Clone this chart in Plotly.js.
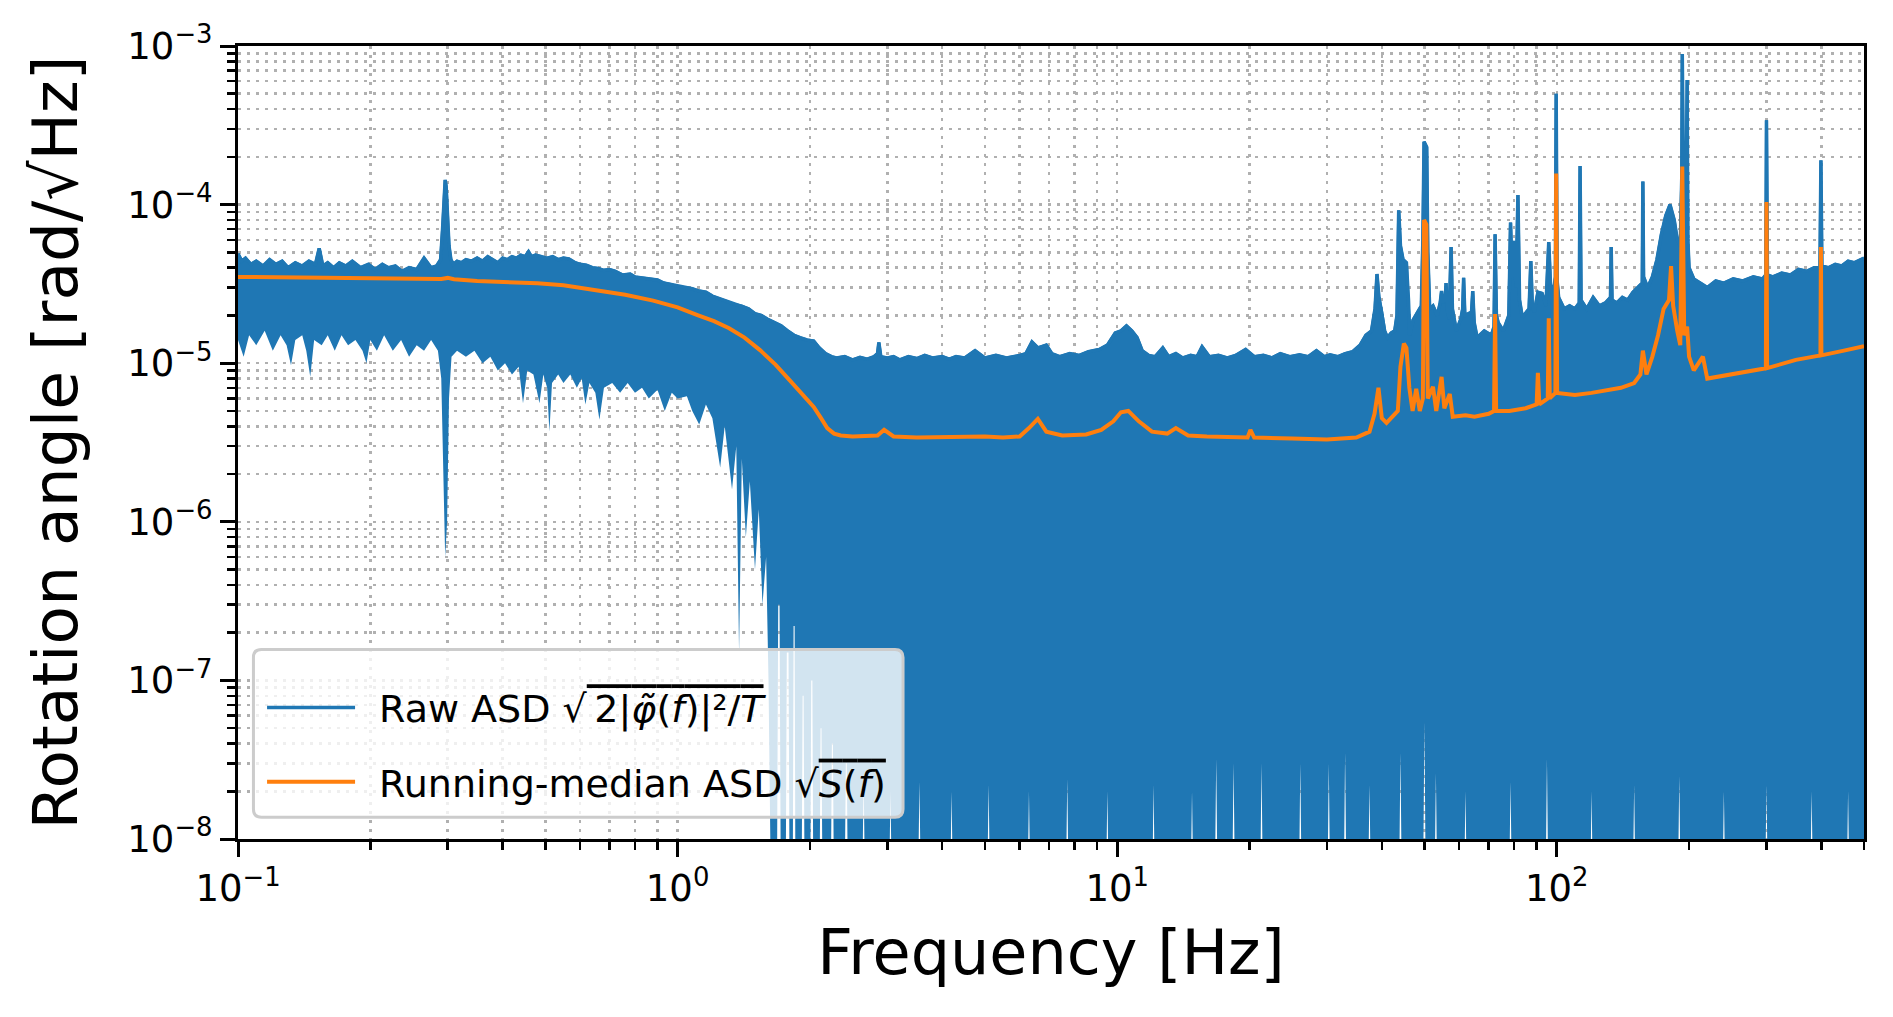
<!DOCTYPE html>
<html>
<head>
<meta charset="utf-8">
<script src="https://cdn.plot.ly/plotly-3.0.1.min.js"></script>
<style>html,body{margin:0;padding:0;background:#fff;}</style>
</head>
<body>
<div id="chart" style="width:1893px;height:1017px;"></div>
<script>
// ---------- Raw ASD: upper edge of the dense trace (Hz, rad/sqrt(Hz)) ----------
const rawUpperFreq = [
  0.1, 0.102, 0.104, 0.107, 0.11, 0.114, 0.118, 0.122, 0.126, 0.13,
  0.135, 0.14, 0.145, 0.15, 0.153, 0.156, 0.16, 0.165, 0.17, 0.176,
  0.182, 0.19, 0.198, 0.205, 0.213, 0.22, 0.228, 0.236, 0.245, 0.255,
  0.265, 0.275, 0.283, 0.289, 0.292, 0.2945, 0.296, 0.2975, 0.2995, 0.302,
  0.305, 0.309, 0.315, 0.322, 0.33, 0.34, 0.35, 0.36, 0.37, 0.38,
  0.39, 0.4, 0.41, 0.42, 0.43, 0.44, 0.45, 0.458, 0.465, 0.475,
  0.49, 0.505, 0.52, 0.535, 0.55, 0.566, 0.585, 0.6, 0.62, 0.64,
  0.66, 0.68, 0.7, 0.72, 0.75, 0.78, 0.8, 0.83, 0.86, 0.9,
  0.93, 0.96, 1.0, 1.04, 1.08, 1.12, 1.16, 1.2, 1.25, 1.3,
  1.35, 1.4, 1.45, 1.5, 1.55, 1.6, 1.66, 1.72, 1.78, 1.84,
  1.9, 1.97, 2.04, 2.1, 2.17, 2.24, 2.3, 2.4, 2.5, 2.6,
  2.7, 2.8, 2.85, 2.87, 2.9, 3.0, 3.1, 3.2, 3.35, 3.5,
  3.65, 3.8, 4.0, 4.15, 4.3, 4.5, 4.75, 5.0, 5.3, 5.6,
  6.0, 6.2, 6.4, 6.6, 6.9, 7.1, 7.4, 7.8, 8.2, 8.6,
  9.1, 9.5, 9.9, 10.2, 10.5, 10.8, 11.1, 11.4, 11.8, 12.2,
  12.7, 13.1, 13.6, 14.1, 14.7, 15.2, 15.6, 16.2, 17.0, 17.8,
  18.6, 19.6, 20.5, 21.5, 22.5, 23.5, 24.7, 26.0, 27.2, 28.4,
  29.6, 30.5, 31.8, 33.0, 34.3, 35.7, 36.8, 37.9, 38.6, 39.0,
  39.4, 40.0, 40.6, 41.2, 42.0, 42.8, 43.3, 43.7, 44.1, 44.7,
  45.5, 46.0, 46.3, 47.1, 48.2, 49.2, 49.6, 49.9, 50.6, 50.9,
  51.4, 52.3, 53.5, 54.3, 54.7, 55.1, 55.8, 56.0, 56.3, 56.9,
  57.5, 57.9, 59.1, 60.5, 61.1, 61.4, 61.8, 63.0, 64.0, 64.4,
  64.9, 65.9, 68.4, 71.0, 72.0, 72.4, 72.9, 73.6, 75.6, 77.8,
  78.5, 79.2, 80.0, 80.8, 81.6, 82.3, 83.5, 86.5, 87.3, 88.0,
  88.9, 90.6, 92.6, 94.5, 95.9, 96.8, 98.6, 99.3, 99.7, 100.2,
  101, 104, 107, 110, 112.5, 113, 113.6, 117, 121, 125,
  129, 132.5, 133, 133.6, 137, 141, 145, 149, 153, 156.5,
  157, 157.6, 161, 165, 169, 173, 177, 181, 185, 188,
  191, 192.5, 193, 193.6, 195, 196.5, 198, 198.7, 200, 205,
  212, 220, 230, 240, 252, 265, 280, 294, 299, 300,
  301.5, 310, 325, 340, 355, 370, 385, 397, 399, 401,
  415, 430, 445, 460, 475, 490, 500
];
const rawUpperASD = [
  4.9e-5, 4.4e-5, 4.6e-5, 4.2e-5, 4.4e-5, 4.1e-5, 4.5e-5, 4.2e-5, 4.4e-5, 4.0e-5,
  4.3e-5, 4.1e-5, 4.4e-5, 4.2e-5, 5.3e-5, 4.1e-5, 4.3e-5, 4.0e-5, 4.3e-5, 4.1e-5,
  4.4e-5, 4.0e-5, 4.2e-5, 3.9e-5, 4.2e-5, 4.0e-5, 4.1e-5, 3.8e-5, 4.0e-5, 3.9e-5,
  4.6e-5, 4.0e-5, 4.1e-5, 4.5e-5, 7.0e-5, 1.2e-4, 1.43e-4, 1.3e-4, 8.0e-5, 5.5e-5,
  4.5e-5, 4.2e-5, 4.4e-5, 4.3e-5, 4.5e-5, 4.4e-5, 4.6e-5, 4.4e-5, 4.7e-5, 4.5e-5,
  4.3e-5, 4.6e-5, 4.5e-5, 4.7e-5, 4.6e-5, 4.8e-5, 4.7e-5, 5.05e-5, 4.7e-5, 4.8e-5,
  4.7e-5, 4.6e-5, 4.7e-5, 4.5e-5, 4.6e-5, 4.55e-5, 4.3e-5, 4.2e-5, 4.15e-5, 4.0e-5,
  3.95e-5, 3.85e-5, 3.9e-5, 3.8e-5, 3.6e-5, 3.65e-5, 3.5e-5, 3.45e-5, 3.4e-5, 3.35e-5,
  3.2e-5, 3.15e-5, 3.05e-5, 3.0e-5, 2.95e-5, 2.85e-5, 2.8e-5, 2.65e-5, 2.55e-5, 2.45e-5,
  2.35e-5, 2.3e-5, 2.2e-5, 2.05e-5, 2.0e-5, 1.9e-5, 1.8e-5, 1.72e-5, 1.6e-5, 1.5e-5,
  1.45e-5, 1.4e-5, 1.38e-5, 1.25e-5, 1.15e-5, 1.1e-5, 1.08e-5, 1.1e-5, 1.05e-5, 1.09e-5,
  1.06e-5, 1.1e-5, 1.15e-5, 1.35e-5, 1.1e-5, 1.08e-5, 1.1e-5, 1.05e-5, 1.1e-5, 1.07e-5,
  1.12e-5, 1.08e-5, 1.1e-5, 1.06e-5, 1.1e-5, 1.08e-5, 1.2e-5, 1.08e-5, 1.12e-5, 1.08e-5,
  1.12e-5, 1.15e-5, 1.36e-5, 1.25e-5, 1.3e-5, 1.15e-5, 1.1e-5, 1.15e-5, 1.12e-5, 1.18e-5,
  1.22e-5, 1.3e-5, 1.55e-5, 1.6e-5, 1.72e-5, 1.6e-5, 1.45e-5, 1.2e-5, 1.12e-5, 1.1e-5,
  1.25e-5, 1.1e-5, 1.15e-5, 1.08e-5, 1.12e-5, 1.1e-5, 1.27e-5, 1.1e-5, 1.12e-5, 1.08e-5,
  1.12e-5, 1.22e-5, 1.1e-5, 1.12e-5, 1.08e-5, 1.15e-5, 1.1e-5, 1.13e-5, 1.1e-5, 1.2e-5,
  1.1e-5, 1.13e-5, 1.1e-5, 1.15e-5, 1.18e-5, 1.3e-5, 1.5e-5, 1.6e-5, 2.2e-5, 3.65e-5,
  2.6e-5, 2.1e-5, 1.6e-5, 1.45e-5, 1.55e-5, 1.6e-5, 2.0e-5, 9.2e-5, 5.5e-5, 4.5e-5,
  4.3e-5, 2.5e-5, 1.5e-5, 1.87e-5, 2.1e-5, 2.3e-5, 6.0e-5, 2.49e-4, 2.3e-4, 5.0e-5,
  2.2e-5, 2.3e-5, 2.0e-5, 2.4e-5, 2.85e-5, 2.4e-5, 2.6e-5, 3.2e-5, 2.2e-5, 1.9e-5,
  5.4e-5, 2.2e-5, 1.6e-5, 1.9e-5, 2.2e-5, 3.45e-5, 2.0e-5, 2.05e-5, 2.1e-5, 2.85e-5,
  1.8e-5, 1.45e-5, 1.6e-5, 1.5e-5, 1.7e-5, 6.5e-5, 2.0e-5, 1.8e-5, 1.6e-5, 2.0e-5,
  7.7e-5, 3.5e-5, 5.9e-5, 3.0e-5, 1.15e-4, 2.5e-5, 1.95e-5, 2.2e-5, 4.4e-5, 2.3e-5,
  2.1e-5, 2.8e-5, 2.75e-5, 2.3e-5, 5.8e-5, 3.1e-5, 3.0e-5, 3.5e-5, 5.0e-4, 3.3e-5,
  2.6e-5, 2.2e-5, 2.3e-5, 2.2e-5, 2.4e-5, 1.75e-4, 2.5e-5, 2.2e-5, 2.6e-5, 2.3e-5,
  2.4e-5, 2.6e-5, 5.4e-5, 2.5e-5, 2.4e-5, 2.6e-5, 2.5e-5, 2.8e-5, 3.0e-5, 3.2e-5,
  1.4e-4, 3.5e-5, 3.0e-5, 3.5e-5, 4.5e-5, 6.5e-5, 8.5e-5, 1.0e-4, 8.0e-5, 6.0e-5,
  5.5e-5, 1.5e-4, 8.9e-4, 2.0e-4, 5.0e-5, 4.5e-5, 6.1e-4, 6.0e-5, 4.0e-5, 3.4e-5,
  3.2e-5, 3.0e-5, 3.3e-5, 3.2e-5, 3.4e-5, 3.3e-5, 3.5e-5, 3.4e-5, 3.6e-5, 3.4e-4,
  3.6e-5, 3.5e-5, 3.7e-5, 3.6e-5, 3.9e-5, 3.8e-5, 4.0e-5, 4.0e-5, 1.9e-4, 4.1e-5,
  4.0e-5, 4.2e-5, 4.1e-5, 4.4e-5, 4.3e-5, 4.5e-5, 4.6e-5
];

// ---------- Raw ASD: lower edge of the dense trace (5e-9 = below the axis floor) ----------
const rawLowerFreq = [
  0.1, 0.103, 0.106, 0.11, 0.115, 0.12, 0.125, 0.129, 0.132, 0.135,
  0.14, 0.143, 0.146, 0.149, 0.155, 0.16, 0.166, 0.172, 0.178, 0.185,
  0.192, 0.196, 0.2, 0.207, 0.215, 0.225, 0.235, 0.245, 0.255, 0.265,
  0.275, 0.285, 0.29, 0.293, 0.296, 0.299, 0.302, 0.306, 0.315, 0.33,
  0.345, 0.36, 0.375, 0.39, 0.405, 0.42, 0.435, 0.445, 0.455, 0.47,
  0.485, 0.495, 0.505, 0.511, 0.518, 0.535, 0.55, 0.57, 0.59, 0.605,
  0.617, 0.63, 0.65, 0.664, 0.68, 0.71, 0.74, 0.77, 0.8, 0.83,
  0.86, 0.9, 0.935, 0.97, 1.0, 1.05, 1.08, 1.12, 1.16, 1.2,
  1.25, 1.28, 1.33, 1.36, 1.38, 1.40, 1.43, 1.46, 1.50, 1.53,
  1.56, 1.59, 1.61, 1.63,
  1.683, 1.694, 1.706, 1.717, 1.762, 1.772, 1.788, 1.798, 1.828, 1.836, 1.846, 1.854,
  1.915, 1.925, 1.935, 1.945, 2.004, 2.014, 2.026, 2.036, 2.104, 2.115, 2.125, 2.136,
  2.232, 2.244, 2.256, 2.268, 2.400, 2.414, 2.426, 2.440,
  2.631, 2.65, 2.669, 3.029, 3.05, 3.071, 3.525, 3.55, 3.575, 4.171, 4.2, 4.229,
  5.064, 5.1, 5.136, 6.256, 6.3, 6.344, 7.646, 7.7, 7.754, 9.434, 9.5, 9.566,
  12.02, 12.1, 12.18, 14.70, 14.8, 14.90, 16.68, 16.8, 16.92, 18.27, 18.4, 18.53,
  21.15, 21.3, 21.45, 25.92, 26.1, 26.28, 30.09, 30.3, 30.51, 32.77, 33.0, 33.23,
  37.24, 37.5, 37.76, 43.79, 44.1, 44.41, 49.65, 50.0, 50.35, 52.73, 53.1, 53.47,
  61.57, 62.0, 62.43, 77.95, 78.5, 79.05, 94.33, 95.0, 95.67, 119.2, 120, 120.8,
  149.0, 150, 151.0, 188.7, 190, 191.3, 238.3, 240, 241.7, 297.9, 300, 302.1,
  377.3, 380, 382.7, 456.8, 460, 463.2, 500
];
const rawLowerASD = [
  1.4e-5, 1.1e-5, 1.5e-5, 1.3e-5, 1.6e-5, 1.2e-5, 1.5e-5, 1.3e-5, 9.7e-6, 1.4e-5,
  1.5e-5, 1.2e-5, 8.2e-6, 1.4e-5, 1.3e-5, 1.5e-5, 1.2e-5, 1.5e-5, 1.3e-5, 1.4e-5,
  1.2e-5, 1.0e-5, 1.4e-5, 1.2e-5, 1.5e-5, 1.2e-5, 1.4e-5, 1.1e-5, 1.3e-5, 1.2e-5,
  1.4e-5, 1.2e-5, 8.0e-6, 2.0e-6, 6.0e-7, 1.0e-6, 6.0e-6, 1.1e-5, 1.2e-5, 1.1e-5,
  1.2e-5, 1.0e-5, 1.1e-5, 9.0e-6, 1.0e-5, 8.5e-6, 9.5e-6, 5.6e-6, 9.0e-6, 8.5e-6,
  5.6e-6, 8.5e-6, 7.0e-6, 3.7e-6, 7.5e-6, 8.5e-6, 7.5e-6, 8.5e-6, 7.0e-6, 8.0e-6,
  5.5e-6, 7.5e-6, 6.5e-6, 4.4e-6, 7.0e-6, 7.5e-6, 6.5e-6, 7.5e-6, 6.5e-6, 7.0e-6,
  6.0e-6, 6.8e-6, 5.0e-6, 6.5e-6, 6.0e-6, 6.2e-6, 5.0e-6, 4.1e-6, 5.5e-6, 4.5e-6,
  2.2e-6, 4.0e-6, 1.6e-6, 3.0e-6, 1.5e-7, 2.5e-6, 8.0e-7, 1.8e-6, 5.0e-7, 1.2e-6,
  3.0e-7, 6.0e-7, 1.0e-7, 5e-9,
  5e-9, 3.0e-7, 3.0e-7, 5e-9, 5e-9, 1.5e-7, 1.5e-7, 5e-9, 5e-9, 2.2e-7, 2.2e-7, 5e-9,
  5e-9, 8.0e-8, 8.0e-8, 5e-9, 5e-9, 1.0e-7, 1.0e-7, 5e-9, 5e-9, 5.0e-8, 5.0e-8, 5e-9,
  5e-9, 4.0e-8, 4.0e-8, 5e-9, 5e-9, 3.0e-8, 3.0e-8, 5e-9,
  5e-9, 2.5e-8, 5e-9, 5e-9, 2.0e-8, 5e-9, 5e-9, 2.3e-8, 5e-9, 5e-9, 2.0e-8, 5e-9,
  5e-9, 2.2e-8, 5e-9, 5e-9, 2.0e-8, 5e-9, 5e-9, 2.4e-8, 5e-9, 5e-9, 2.0e-8, 5e-9,
  5e-9, 2.2e-8, 5e-9, 5e-9, 2.0e-8, 5e-9, 5e-9, 3.2e-8, 5e-9, 5e-9, 3.0e-8, 5e-9,
  5e-9, 3.0e-8, 5e-9, 5e-9, 3.0e-8, 5e-9, 5e-9, 3.0e-8, 5e-9, 5e-9, 3.5e-8, 5e-9,
  5e-9, 2.2e-8, 5e-9, 5e-9, 3.5e-8, 5e-9, 5e-9, 5.5e-8, 5e-9, 5e-9, 2.6e-8, 5e-9,
  5e-9, 2.0e-8, 5e-9, 5e-9, 2.3e-8, 5e-9, 5e-9, 3.2e-8, 5e-9, 5e-9, 2.0e-8, 5e-9,
  5e-9, 2.2e-8, 5e-9, 5e-9, 2.5e-8, 5e-9, 5e-9, 2.0e-8, 5e-9, 5e-9, 2.2e-8, 5e-9,
  5e-9, 2.0e-8, 5e-9, 5e-9, 2.0e-8, 5e-9, 5e-9
];

// ---------- Running-median ASD ----------
const medianFreq = [
  0.1, 0.15, 0.2, 0.25, 0.29, 0.3, 0.31, 0.35, 0.394, 0.48,
  0.55, 0.65, 0.76, 0.88, 1.0, 1.11, 1.21, 1.31, 1.42, 1.54,
  1.67, 1.80, 1.92, 2.04, 2.12, 2.19, 2.27, 2.35, 2.5, 2.7,
  2.85, 2.95, 3.1, 3.5, 4.0, 4.5, 5.0, 5.5, 6.0, 6.3,
  6.6, 6.9, 7.5, 8.5, 9.2, 9.8, 10.2, 10.6, 11.2, 12.0,
  13.0, 13.6, 14.5, 16.0, 18.0, 19.8, 20.1, 20.5, 25.0, 30.0,
  35.0, 37.5, 38.5, 39.3, 40.0, 41.0, 43.5, 44.1, 44.9, 45.5,
  46.2, 47.0, 47.9, 48.8, 49.6, 49.9, 50.5, 50.9, 52.3, 53.2,
  54.7, 55.5, 57.1, 58.0, 62.0, 65.0, 70.0, 72.0, 72.4, 72.8,
  78.0, 85.0, 90.0, 90.6, 91.3, 95.4, 95.9, 96.4, 99.3, 99.7,
  100.2, 110, 120, 140, 150, 155, 157, 160, 165, 170,
  175, 180, 182, 184, 188, 191, 193, 195, 198, 200,
  205, 215, 220, 250, 299, 300, 301, 350, 398, 399,
  400, 450, 500
];
const medianASD = [
  3.5e-5, 3.47e-5, 3.44e-5, 3.42e-5, 3.4e-5, 3.45e-5, 3.38e-5, 3.3e-5, 3.27e-5, 3.19e-5,
  3.1e-5, 2.9e-5, 2.7e-5, 2.48e-5, 2.25e-5, 2.01e-5, 1.84e-5, 1.66e-5, 1.45e-5, 1.21e-5,
  9.8e-6, 7.8e-6, 6.4e-6, 5.3e-6, 4.5e-6, 3.9e-6, 3.6e-6, 3.5e-6, 3.45e-6, 3.45e-6,
  3.5e-6, 3.8e-6, 3.45e-6, 3.4e-6, 3.42e-6, 3.4e-6, 3.45e-6, 3.4e-6, 3.45e-6, 3.9e-6,
  4.45e-6, 3.7e-6, 3.5e-6, 3.55e-6, 3.8e-6, 4.3e-6, 4.9e-6, 5.0e-6, 4.3e-6, 3.7e-6,
  3.6e-6, 3.9e-6, 3.5e-6, 3.45e-6, 3.4e-6, 3.4e-6, 3.8e-6, 3.4e-6, 3.35e-6, 3.3e-6,
  3.4e-6, 3.7e-6, 4.8e-6, 7.0e-6, 4.5e-6, 4.2e-6, 5.0e-6, 9.5e-6, 1.33e-5, 1.25e-5,
  7.0e-6, 5.0e-6, 6.9e-6, 5.0e-6, 6.0e-6, 8.0e-5, 7.5e-5, 6.0e-6, 7.1e-6, 5.0e-6,
  8.2e-6, 5.2e-6, 6.4e-6, 4.6e-6, 4.7e-6, 4.6e-6, 4.8e-6, 5.0e-6, 2.04e-5, 5.0e-6,
  5.0e-6, 5.2e-6, 5.5e-6, 8.7e-6, 5.5e-6, 6.0e-6, 1.92e-5, 6.0e-6, 6.5e-6, 1.57e-4,
  6.5e-6, 6.3e-6, 6.5e-6, 7.0e-6, 7.5e-6, 8.5e-6, 1.2e-5, 8.5e-6, 1.1e-5, 1.5e-5,
  2.2e-5, 2.5e-5, 4.1e-5, 2.3e-5, 1.6e-5, 1.3e-5, 1.74e-4, 1.5e-5, 1.7e-5, 1.1e-5,
  9.0e-6, 1.1e-5, 8.0e-6, 8.5e-6, 9.3e-6, 1.04e-4, 9.3e-6, 1.05e-5, 1.12e-5, 5.4e-5,
  1.12e-5, 1.2e-5, 1.28e-5
];

// ---------- Axis ticks and labels ----------
const xTickVals = [0.1, 1, 10, 100];
const xTickText = ['10<sup>\u22121</sup>', '10<sup>0</sup>', '10<sup>1</sup>', '10<sup>2</sup>'];
const yTickVals = [1e-8, 1e-7, 1e-6, 1e-5, 1e-4, 1e-3];
const yTickText = ['10<sup>\u22128</sup>', '10<sup>\u22127</sup>', '10<sup>\u22126</sup>',
                   '10<sup>\u22125</sup>', '10<sup>\u22124</sup>', '10<sup>\u22123</sup>'];

const rawLabel = '\u2002Raw ASD \u221A<span style="text-decoration:overline">\u20092|<i>\u03C6\u0303</i>(<i>f</i>)|\u00B2/<i>T</i></span>';
const medLabel = '\u2002Running-median ASD \u221A<span style="text-decoration:overline"><i>S</i>(<i>f</i>)</span>';
const xTitle = 'Frequency [Hz]';
const yTitle = 'Rotation angle [rad/\u221AHz]';

const BLUE = '#1f77b4', ORANGE = '#ff7f0e';
const GRID = '#b0b0b0';

const traces = [
  {x: rawLowerFreq, y: rawLowerASD, mode: 'lines', line: {width: 0, color: BLUE},
   showlegend: false, hoverinfo: 'skip'},
  {x: rawUpperFreq, y: rawUpperASD, mode: 'lines', fill: 'tonexty', fillcolor: BLUE,
   line: {color: BLUE, width: 3}, showlegend: false, hoverinfo: 'skip'},
  {x: rawUpperFreq, y: rawUpperASD, mode: 'lines', line: {color: BLUE, width: 3.5},
   name: rawLabel, legendgroup: 'raw'},
  {x: medianFreq, y: medianASD, mode: 'lines', line: {color: ORANGE, width: 4},
   name: medLabel, legendgroup: 'med'}
];

function axisBase() {
  return {
    type: 'log', ticks: 'outside', ticklen: 15, tickwidth: 3, tickcolor: '#000',
    showline: true, linecolor: '#000', linewidth: 3, mirror: true, zeroline: false,
    showgrid: true, gridcolor: GRID, gridwidth: 2.5, griddash: '3px,6px',
    tickfont: {size: 37, color: '#000'},
    minor: {dtick: 'D1', ticks: 'outside', ticklen: 8, tickwidth: 2.5, tickcolor: '#000',
            showgrid: true, gridcolor: GRID, gridwidth: 2.5, griddash: '3px,6px'}
  };
}

const xaxis = Object.assign(axisBase(), {
  range: [-1, Math.log10(500)], tickmode: 'array', tickvals: xTickVals, ticktext: xTickText,
  title: {text: xTitle, font: {size: 62, color: '#000'}, standoff: 22}
});
const yaxis = Object.assign(axisBase(), {
  range: [-8, -3], tickmode: 'array', tickvals: yTickVals, ticktext: yTickText,
  title: {text: yTitle, font: {size: 63, color: '#000'}, standoff: 30}
});

// legend frame (rounded, semi-transparent) in paper units
const LX0 = 0.0095, LX1 = 0.409, LY0 = 0.0274, LY1 = 0.239, RX = 0.0049, RY = 0.0101;
const legendFrame = 'M' + (LX0 + RX) + ',' + LY0 + ' L' + (LX1 - RX) + ',' + LY0 +
  ' Q' + LX1 + ',' + LY0 + ' ' + LX1 + ',' + (LY0 + RY) + ' L' + LX1 + ',' + (LY1 - RY) +
  ' Q' + LX1 + ',' + LY1 + ' ' + (LX1 - RX) + ',' + LY1 + ' L' + (LX0 + RX) + ',' + LY1 +
  ' Q' + LX0 + ',' + LY1 + ' ' + LX0 + ',' + (LY1 - RY) + ' L' + LX0 + ',' + (LY0 + RY) +
  ' Q' + LX0 + ',' + LY0 + ' ' + (LX0 + RX) + ',' + LY0 + ' Z';

const layout = {
  width: 1893, height: 1017,
  margin: {l: 238, r: 29, t: 46, b: 178},
  paper_bgcolor: '#fff', plot_bgcolor: '#fff',
  font: {family: 'DejaVu Sans, sans-serif', color: '#000', size: 37},
  xaxis: xaxis, yaxis: yaxis,
  shapes: [{type: 'path', xref: 'paper', yref: 'paper', path: legendFrame,
            fillcolor: 'rgba(255,255,255,0.8)', line: {color: '#cccccc', width: 3}, layer: 'above'}],
  showlegend: true,
  legend: {
    x: 0.0148, y: 0.1189, xanchor: 'left', yanchor: 'middle',
    bgcolor: 'rgba(0,0,0,0)', borderwidth: 0,
    font: {size: 38, color: '#000'}, traceorder: 'grouped', tracegroupgap: 22,
    itemwidth: 88
  }
};

Plotly.newPlot('chart', traces, layout, {displayModeBar: false, staticPlot: true});
</script>
</body>
</html>
